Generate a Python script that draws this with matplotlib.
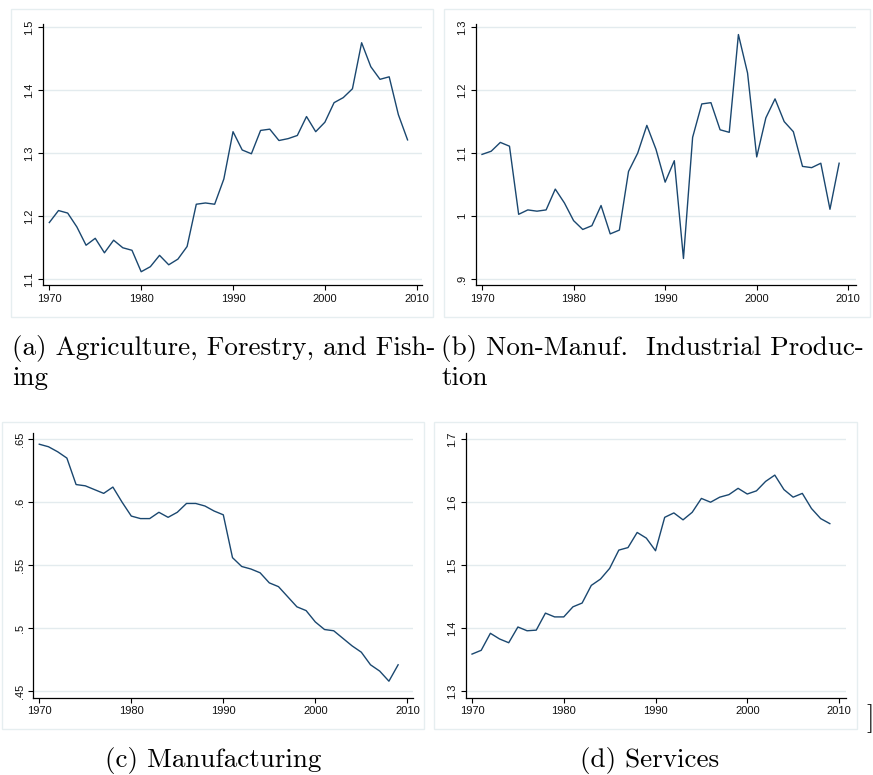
import matplotlib
matplotlib.use("Agg")
import matplotlib.pyplot as plt
from matplotlib.patches import Rectangle

years = list(range(1970, 2010))

agriculture = [1.190, 1.209, 1.205, 1.183, 1.154, 1.165, 1.142, 1.162, 1.150, 1.146,
               1.112, 1.120, 1.138, 1.123, 1.132, 1.152, 1.219, 1.221, 1.219, 1.259,
               1.334, 1.305, 1.299, 1.336, 1.338, 1.320, 1.323, 1.328, 1.358, 1.334,
               1.349, 1.380, 1.388, 1.402, 1.475, 1.437, 1.417, 1.421, 1.361, 1.321]

nonmanuf = [1.098, 1.103, 1.117, 1.111, 1.003, 1.010, 1.008, 1.010, 1.043, 1.021,
            0.993, 0.979, 0.985, 1.017, 0.972, 0.978, 1.071, 1.100, 1.144, 1.106,
            1.054, 1.088, 0.933, 1.125, 1.178, 1.180, 1.137, 1.133, 1.288, 1.227,
            1.094, 1.156, 1.186, 1.150, 1.134, 1.079, 1.077, 1.084, 1.011, 1.084]

manufacturing = [0.646, 0.644, 0.640, 0.635, 0.614, 0.613, 0.610, 0.607, 0.612, 0.600,
                 0.589, 0.587, 0.587, 0.592, 0.588, 0.592, 0.599, 0.599, 0.597, 0.593,
                 0.590, 0.556, 0.549, 0.547, 0.544, 0.536, 0.533, 0.525, 0.517, 0.514,
                 0.505, 0.499, 0.498, 0.492, 0.486, 0.481, 0.471, 0.466, 0.458, 0.471]

services = [1.359, 1.365, 1.392, 1.383, 1.377, 1.402, 1.396, 1.397, 1.424, 1.418,
            1.418, 1.434, 1.440, 1.468, 1.478, 1.495, 1.524, 1.528, 1.552, 1.543,
            1.523, 1.576, 1.583, 1.572, 1.584, 1.606, 1.600, 1.608, 1.612, 1.622,
            1.613, 1.618, 1.633, 1.643, 1.620, 1.608, 1.614, 1.590, 1.574, 1.566]

x_ticks = [1970, 1980, 1990, 2000, 2010]
x_tick_labels = ["1970", "1980", "1990", "2000", "2010"]

a_yticks = [1.1, 1.2, 1.3, 1.4, 1.5]
a_ylabels = ["1.1", "1.2", "1.3", "1.4", "1.5"]
b_yticks = [0.9, 1.0, 1.1, 1.2, 1.3]
b_ylabels = [".9", "1", "1.1", "1.2", "1.3"]
c_yticks = [0.45, 0.50, 0.55, 0.60, 0.65]
c_ylabels = [".45", ".5", ".55", ".6", ".65"]
d_yticks = [1.3, 1.4, 1.5, 1.6, 1.7]
d_ylabels = ["1.3", "1.4", "1.5", "1.6", "1.7"]

captions = [
    "(a) Agriculture, Forestry, and Fish-\ning",
    "(b) Non-Manuf.  Industrial Produc-\ntion",
    "(c) Manufacturing",
    "(d) Services",
]

W, H = 873, 775
fig = plt.figure(figsize=(W / 100, H / 100), dpi=100)
fig.patch.set_facecolor("white")

LINE = "#1a476f"
GRID = "#e3ebee"
BOX = "#e6eef0"
TICKFONT = "Liberation Sans"


def px_axes(l, r, t, b):
    return [l / W, 1 - b / H, (r - l) / W, (b - t) / H]


def box(l, t, r, b):
    fig.patches.append(Rectangle((l / W, 1 - b / H), (r - l) / W, (b - t) / H,
                                 transform=fig.transFigure, fill=False,
                                 edgecolor=BOX, lw=1.0, zorder=0))


panels = [
    # values, yticks, ylabels, axes px (l, r, t, b), xlim, ylim, box
    (agriculture, a_yticks, a_ylabels, (42.7, 421.7, 24, 285.3),
     (1969.28, 2010.54), (1.0905, 1.5047), (11.3, 9.3, 433.3, 316.7)),
    (nonmanuf, b_yticks, b_ylabels, (475.7, 855.7, 24, 285.3),
     (1969.31, 2010.81), (0.8905, 1.3047), (444.3, 9.3, 869.5, 316.7)),
    (manufacturing, c_yticks, c_ylabels, (33.3, 413.3, 432.5, 697.7),
     (1969.35, 2010.65), (0.4449, 0.6553), (1.7, 421.7, 424.3, 729.3)),
    (services, d_yticks, d_ylabels, (465.7, 845.7, 432.5, 697.7),
     (1969.31, 2010.73), (1.2898, 1.7106), (434.3, 422.3, 857.3, 729.3)),
]

for vals, yt, yl, (l, r, t, b), xl, ylim, bx in panels:
    box(*bx)
    ax = fig.add_axes(px_axes(l, r, t, b))
    ax.set_facecolor("white")
    ax.plot(years, vals, color=LINE, lw=1.0, zorder=3)
    ax.set_xlim(*xl)
    ax.set_ylim(*ylim)
    ax.set_yticks(yt)
    ax.set_yticklabels(yl, rotation=90, va="center", fontfamily=TICKFONT, fontsize=8)
    ax.set_xticks(x_ticks)
    ax.set_xticklabels(x_tick_labels, fontfamily=TICKFONT, fontsize=8)
    for v in yt:
        ax.axhline(v, color=GRID, lw=1.0, zorder=1)
    for s in ["top", "right"]:
        ax.spines[s].set_visible(False)
    for s in ["left", "bottom"]:
        ax.spines[s].set_color("black")
        ax.spines[s].set_linewidth(0.9)
    ax.tick_params(axis="both", direction="out", length=3.5, width=0.8,
                   color="black", pad=2.5, labelcolor="#111111")

# captions
cap_font = dict(family="cmr10", fontsize=19.5, color="black", linespacing=1.25)
fig.text(12 / W, 1 - 335 / H, captions[0], ha="left", va="top", **cap_font)
fig.text(441 / W, 1 - 335 / H, captions[1], ha="left", va="top", **cap_font)
fig.text(213 / W, 1 - 761 / H, captions[2], ha="center", va="center", **cap_font)
fig.text(650 / W, 1 - 761 / H, captions[3], ha="center", va="center", **cap_font)

# stray bracket at right edge
fig.text(870 / W, 1 - 719 / H, "]", ha="center", va="center",
         family="cmr10", fontsize=20, color="black")

fig.savefig("out.png", dpi=100, facecolor="white")
